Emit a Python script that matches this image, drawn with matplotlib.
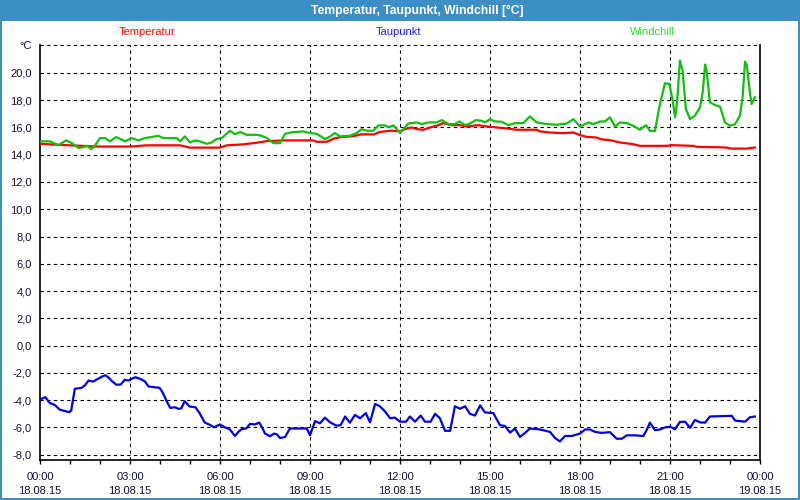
import matplotlib
matplotlib.use("Agg")
import matplotlib.pyplot as plt
from matplotlib.patches import Rectangle

# ---------------- data ----------------
temp_hours = [0.0, 0.33, 1.0, 1.89, 3.0, 3.56, 4.67, 5.0, 6.0, 6.22, 6.78, 7.22, 7.56, 8.11,
              9.11, 9.22, 9.56, 9.78, 10.0, 10.44, 10.67, 10.89, 11.11, 11.33, 11.67, 12.0,
              12.17, 12.39, 12.56, 12.78, 13.0, 13.22, 13.44, 13.72, 14.0, 14.22, 14.61,
              14.89, 15.22, 15.56, 15.89, 16.56, 16.67, 17.0, 17.44, 17.78, 18.0, 18.22,
              18.56, 18.72, 19.0, 19.33, 19.78, 20.0, 20.89, 21.06, 21.78, 21.89, 22.89,
              23.0, 23.56, 23.83]
temp_vals = [14.8, 14.76, 14.69, 14.6, 14.6, 14.69, 14.69, 14.52, 14.52, 14.69, 14.76, 14.88,
             15.0, 15.05, 15.05, 14.95, 14.95, 15.17, 15.29, 15.36, 15.48, 15.5, 15.48, 15.67,
             15.76, 15.72, 15.88, 16.0, 15.88, 15.83, 16.0, 16.12, 16.32, 16.17, 16.17, 16.07,
             16.17, 16.07, 16.0, 15.93, 15.83, 15.83, 15.71, 15.63, 15.58, 15.63, 15.44,
             15.31, 15.26, 15.12, 15.07, 14.9, 14.77, 14.65, 14.65, 14.7, 14.65, 14.58,
             14.53, 14.45, 14.45, 14.53]

dew_hours = [0.0, 0.18, 0.32, 0.49, 0.66, 0.82, 0.97, 1.04, 1.16, 1.38, 1.49, 1.62, 1.77,
             1.93, 2.07, 2.18, 2.27, 2.4, 2.54, 2.69, 2.82, 2.96, 3.07, 3.18, 3.32, 3.49,
             3.62, 3.82, 3.99, 4.1, 4.21, 4.34, 4.49, 4.62, 4.71, 4.82, 4.99, 5.18, 5.32,
             5.49, 5.66, 5.8, 5.99, 6.17, 6.33, 6.5, 6.61, 6.72, 6.87, 7.0, 7.17, 7.31,
             7.39, 7.5, 7.67, 7.8, 7.89, 8.0, 8.17, 8.33, 8.89, 9.0, 9.17, 9.33, 9.5, 9.67,
             9.89, 10.02, 10.17, 10.33, 10.5, 10.67, 10.86, 11.0, 11.17, 11.33, 11.5,
             11.67, 11.83, 12.0, 12.2, 12.33, 12.5, 12.69, 12.83, 13.02, 13.17, 13.33,
             13.5, 13.67, 13.83, 14.0, 14.17, 14.33, 14.5, 14.67, 14.83, 15.11, 15.33,
             15.5, 15.67, 15.83, 16.0, 16.17, 16.33, 16.67, 17.0, 17.17, 17.33, 17.5,
             17.72, 18.0, 18.17, 18.33, 18.5, 18.72, 19.0, 19.22, 19.39, 19.56, 19.83,
             20.11, 20.22, 20.33, 20.5, 20.67, 20.83, 21.0, 21.17, 21.33, 21.5, 21.67,
             21.83, 22.0, 22.17, 22.33, 23.06, 23.17, 23.5, 23.67, 23.83]
dew_vals = [-3.95, -3.78, -4.2, -4.35, -4.7, -4.79, -4.88, -4.76, -3.17, -3.1, -2.93, -2.56,
            -2.64, -2.44, -2.27, -2.17, -2.32, -2.61, -2.86, -2.86, -2.51, -2.56, -2.42,
            -2.32, -2.42, -2.61, -3.0, -3.05, -3.1, -3.49, -4.03, -4.57, -4.52, -4.64,
            -4.6, -4.08, -4.47, -4.52, -4.96, -5.64, -5.81, -5.99, -5.79, -6.0, -6.15,
            -6.63, -6.33, -6.13, -6.08, -5.75, -5.78, -5.65, -5.95, -6.45, -6.65, -6.45,
            -6.5, -6.78, -6.7, -6.08, -6.08, -6.58, -5.53, -5.7, -5.28, -5.63, -5.88,
            -5.83, -5.2, -5.65, -5.08, -5.33, -4.95, -5.63, -4.28, -4.45, -4.83, -5.33,
            -5.28, -5.58, -5.58, -5.2, -5.58, -5.13, -5.58, -5.58, -5.0, -5.33, -6.25,
            -6.25, -4.45, -4.63, -4.45, -5.0, -5.13, -4.38, -4.9, -4.95, -5.83, -5.9,
            -6.38, -6.08, -6.7, -6.4, -6.08, -6.15, -6.33, -6.78, -7.03, -6.63, -6.63,
            -6.45, -6.15, -6.15, -6.33, -6.4, -6.35, -6.83, -6.83, -6.58, -6.58, -6.63,
            -6.2, -5.65, -6.2, -6.15, -6.0, -5.95, -6.13, -5.6, -5.58, -6.03, -5.45,
            -5.63, -5.65, -5.2, -5.15, -5.5, -5.58, -5.25, -5.2]

wind_hours = [0.0, 0.33, 0.61, 0.87, 1.06, 1.28, 1.44, 1.58, 1.7, 1.83, 2.0, 2.17, 2.33,
              2.53, 2.67, 2.83, 3.06, 3.28, 3.5, 3.78, 3.94, 4.11, 4.56, 4.67, 4.83, 5.0,
              5.17, 5.33, 5.56, 5.72, 5.89, 6.06, 6.33, 6.5, 6.67, 6.89, 7.22, 7.39, 7.56,
              7.78, 8.0, 8.17, 8.44, 8.78, 9.0, 9.22, 9.33, 9.5, 9.67, 9.83, 10.0, 10.33,
              10.56, 10.72, 10.89, 11.11, 11.28, 11.5, 11.61, 11.78, 12.0, 12.28, 12.56,
              12.72, 12.94, 13.22, 13.39, 13.61, 13.83, 13.98, 14.17, 14.33, 14.53, 14.72,
              14.83, 15.0, 15.17, 15.39, 15.61, 15.83, 16.11, 16.33, 16.56, 16.89, 17.22,
              17.56, 17.78, 18.0, 18.28, 18.44, 18.67, 18.83, 19.0, 19.17, 19.33, 19.56,
              19.78, 20.0, 20.2, 20.33, 20.5, 20.64, 20.83, 20.98, 21.09, 21.17, 21.24,
              21.33, 21.42, 21.53, 21.67, 21.83, 22.0, 22.09, 22.17, 22.22, 22.33, 22.5,
              22.67, 22.83, 23.0, 23.17, 23.33, 23.42, 23.5, 23.56, 23.67, 23.72, 23.83]
wind_vals = [14.98, 14.98, 14.7, 15.05, 14.85, 14.5, 14.55, 14.66, 14.41, 14.66, 15.22,
             15.22, 14.98, 15.29, 15.17, 14.98, 15.22, 15.05, 15.22, 15.32, 15.39, 15.22,
             15.22, 14.98, 15.34, 14.9, 15.05, 14.98, 14.8, 14.9, 15.15, 15.22, 15.76,
             15.51, 15.66, 15.46, 15.46, 15.39, 15.22, 14.85, 14.85, 15.54, 15.66, 15.71,
             15.59, 15.54, 15.39, 15.15, 15.34, 15.59, 15.34, 15.39, 15.59, 15.88, 15.76,
             15.76, 16.15, 16.15, 16.02, 16.15, 15.6, 16.29, 16.37, 16.25, 16.37, 16.37,
             16.54, 16.25, 16.25, 16.44, 16.17, 16.29, 16.54, 16.49, 16.37, 16.61, 16.44,
             16.42, 16.17, 16.32, 16.32, 16.81, 16.37, 16.25, 16.2, 16.29, 16.61, 16.07,
             16.37, 16.25, 16.44, 16.44, 16.74, 16.05, 16.37, 16.32, 16.12, 15.83, 16.17,
             15.75, 15.75, 17.47, 19.24, 19.19, 17.96, 16.74, 17.96, 20.91, 20.17, 17.35,
             16.61, 16.86, 17.47, 18.58, 20.61, 20.17, 17.84, 17.64, 17.52, 16.37, 16.12,
             16.25, 16.86, 18.21, 20.83, 20.54, 18.45, 17.72, 18.21]

series_names = ["Temperatur", "Taupunkt", "Windchill"]
series_colors = ["#ff0000", "#0000ee", "#11bf11"]
label_colors = ["#ff0a0a", "#1a1aff", "#2ed82e"]

x_ticks = [0, 3, 6, 9, 12, 15, 18, 21, 24]
x_labels = ["00:00\n18.08.15", "03:00\n18.08.15", "06:00\n18.08.15", "09:00\n18.08.15",
            "12:00\n18.08.15", "15:00\n18.08.15", "18:00\n18.08.15", "21:00\n18.08.15",
            "00:00\n19.08.15"]
y_ticks = [-8, -6, -4, -2, 0, 2, 4, 6, 8, 10, 12, 14, 16, 18, 20]
y_labels = ["-8,0", "-6,0", "-4,0", "-2,0", "0,0", "2,0", "4,0", "6,0", "8,0", "10,0",
            "12,0", "14,0", "16,0", "18,0", "20,0"]
unit_label = "°C"
title = "Temperatur, Taupunkt, Windchill [°C]"

# ---------------- figure ----------------
FONT = "Liberation Sans"
W, H = 800, 500
fig = plt.figure(figsize=(8, 5), dpi=100, facecolor="white")
frame_blue = "#3c8fc4"
text_col = "#101030"

# title bar & border
fig.patches.append(Rectangle((0, 1 - 21 / H), 1, 21 / H, transform=fig.transFigure,
                             facecolor=frame_blue, edgecolor="none", zorder=0))
fig.patches.append(Rectangle((0, 0), 1.5 / W, 1, transform=fig.transFigure,
                             facecolor=frame_blue, edgecolor="none", zorder=0))
fig.patches.append(Rectangle((1 - 2.5 / W, 0), 2.5 / W, 1, transform=fig.transFigure,
                             facecolor=frame_blue, edgecolor="none", zorder=0))
fig.patches.append(Rectangle((0, 0), 1, 2.5 / H, transform=fig.transFigure,
                             facecolor=frame_blue, edgecolor="none", zorder=0))
fig.text(417 / W, 1 - 10.5 / H, title, color="white", fontweight="bold", fontsize=8.7,
         family=FONT, ha="center", va="center")

ytop = 22.07
ybot = -8.39
ax = fig.add_axes([40 / W, 40 / H, 720 / W, (460 - 44.7) / H])
ax.set_xlim(0, 24)
ax.set_ylim(ybot, ytop)
ax.set_facecolor("white")

# grid
grid_kw = dict(color="black", lw=0.8, ls=(0, (3, 3)), zorder=1)
for yv in y_ticks + [ytop]:
    ax.axhline(yv, **grid_kw, clip_on=False)
for xv in x_ticks[1:-1]:
    ax.axvline(xv, **grid_kw)

# lines
ax.plot(temp_hours, temp_vals, color=series_colors[0], lw=1.6, zorder=3)
ax.plot(dew_hours, dew_vals, color=series_colors[1], lw=1.6, zorder=3)
ax.plot(wind_hours, wind_vals, color=series_colors[2], lw=1.6, zorder=4)

# spines
ax.spines["top"].set_visible(False)
for s in ["left", "bottom", "right"]:
    ax.spines[s].set_color("black")
    ax.spines[s].set_linewidth(1.2)

ax.set_xticks(x_ticks)
ax.set_xticklabels(x_labels, family=FONT, fontsize=8, linespacing=1.45, color=text_col)
ax.set_xticks(range(0, 25), minor=True)
ax.tick_params(axis="x", which="both", direction="out", length=3, width=1, pad=6)
ax.set_yticks(y_ticks + [ytop])
ax.set_yticklabels(y_labels + [unit_label], family=FONT, fontsize=8, color=text_col)
ax.tick_params(axis="y", length=0, pad=6)

# legend-like labels
for name, xc, col in zip(series_names, [147, 399, 652], label_colors):
    fig.text(xc / W, 1 - 32 / H, name, color=col, fontsize=8, family=FONT,
             ha="center", va="center")

fig.savefig("out.png", dpi=100, facecolor="white")
